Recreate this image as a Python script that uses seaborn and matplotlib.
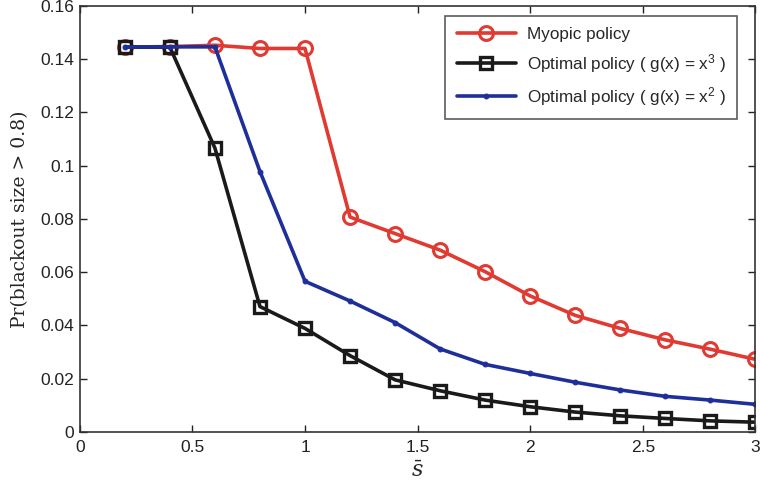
import numpy as np
import pandas as pd
import matplotlib
matplotlib.use("Agg")
import matplotlib.pyplot as plt
import seaborn as sns

s_bar = [0.2, 0.4, 0.6, 0.8, 1.0, 1.2, 1.4, 1.6, 1.8, 2.0, 2.2, 2.4, 2.6, 2.8, 3.0]
myopic = [0.1445, 0.1447, 0.1452, 0.1440, 0.1440, 0.0807, 0.0745, 0.0683, 0.0602,
          0.0511, 0.0438, 0.0389, 0.0346, 0.0311, 0.0273]
opt_x3 = [0.1445, 0.1445, 0.1066, 0.0471, 0.0389, 0.0287, 0.0196, 0.0155, 0.0120,
          0.0095, 0.0075, 0.0061, 0.0051, 0.0042, 0.0037]
opt_x2 = [0.1445, 0.1446, 0.1446, 0.0978, 0.0566, 0.0492, 0.0411, 0.0312, 0.0254,
          0.0220, 0.0187, 0.0158, 0.0134, 0.0120, 0.0104]

labels = ["Myopic policy",
          r"Optimal policy ( g(x) = x$^3$ )",
          r"Optimal policy ( g(x) = x$^2$ )"]

sns.set_style("white")
plt.rcParams['font.family'] = ['Liberation Sans', 'DejaVu Sans']
plt.rcParams['mathtext.fontset'] = 'custom'
plt.rcParams['mathtext.rm'] = 'Liberation Sans'
plt.rcParams['mathtext.it'] = 'DejaVu Serif:italic'

fig = plt.figure(figsize=(7.6, 4.86), dpi=100)
ax = fig.add_axes([0.105, 0.111, 0.889, 0.877])

red = "#e03a32"
black = "#1a1a1a"
blue = "#1f2f9a"

sns.lineplot(x=s_bar, y=myopic, ax=ax, color=red, lw=2.6, marker='o', markersize=10,
             markerfacecolor='none', markeredgecolor=red, markeredgewidth=2.2, label=labels[0])
sns.lineplot(x=s_bar, y=opt_x3, ax=ax, color=black, lw=2.6, marker='s', markersize=9,
             markerfacecolor='none', markeredgecolor=black, markeredgewidth=2.4, label=labels[1])
sns.lineplot(x=s_bar, y=opt_x2, ax=ax, color=blue, lw=2.6, marker='.', markersize=7,
             markerfacecolor=blue, markeredgecolor=blue, label=labels[2])

ax.set_xlim(0, 3)
ax.set_ylim(0, 0.16)
ax.set_xticks([0, 0.5, 1, 1.5, 2, 2.5, 3])
ax.set_xticklabels(["0", "0.5", "1", "1.5", "2", "2.5", "3"])
ax.set_yticks([0, 0.02, 0.04, 0.06, 0.08, 0.1, 0.12, 0.14, 0.16])
ax.set_yticklabels(["0", "0.02", "0.04", "0.06", "0.08", "0.1", "0.12", "0.14", "0.16"])
ax.tick_params(direction='in', top=True, right=True, length=5, width=1, labelsize=12.5,
               colors='#222222', bottom=True, left=True)
ax.tick_params(axis='x', pad=6)
ax.tick_params(axis='y', pad=4)
for sp in ax.spines.values():
    sp.set_visible(True)
    sp.set_color('#333333')
    sp.set_linewidth(1.2)

ax.set_xlabel(r"$\bar{s}$", fontsize=16, labelpad=4)
ax.set_ylabel("Pr(blackout size > 0.8)", fontsize=13.5, family=['DejaVu Serif'], labelpad=8)

leg = ax.legend(loc='upper right', bbox_to_anchor=(0.985, 0.997), fontsize=12.3, frameon=True,
                fancybox=False, edgecolor='#333333', handlelength=3.5, borderpad=0.65,
                labelspacing=0.6, handletextpad=0.6)
leg.get_frame().set_linewidth(1.2)

fig.savefig("out.png", dpi=100)
